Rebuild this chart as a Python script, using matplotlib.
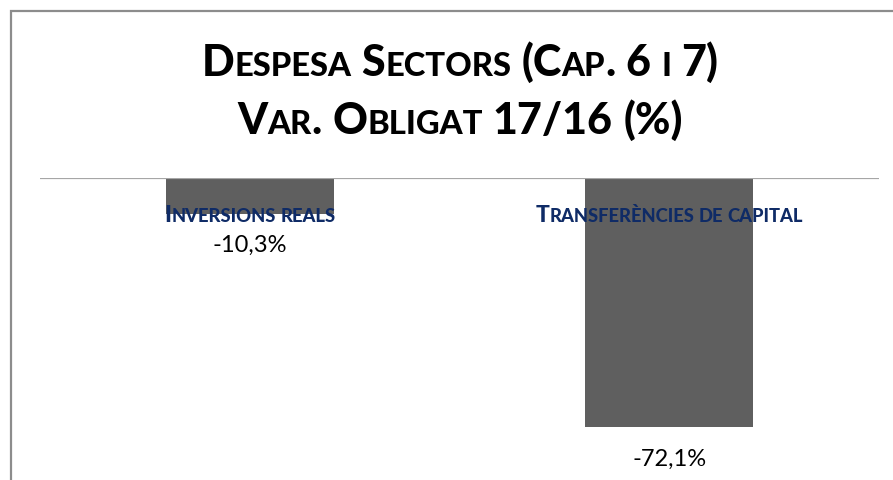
import matplotlib
matplotlib.use("Agg")
import matplotlib.pyplot as plt
from matplotlib.offsetbox import TextArea, HPacker, AnnotationBbox
from matplotlib.patches import Rectangle

categories = ["Inversions reals", "Transferències de capital"]
values = [-10.3, -72.1]
value_labels = ["-10,3%", "-72,1%"]
title_lines = ["Despesa Sectors (Cap. 6 i 7)", "Var. Obligat 17/16 (%)"]

W, H = 893, 480
fig = plt.figure(figsize=(W / 100, H / 100), dpi=100)
FONT = "Lato"


def smallcaps_box(text, size, ratio, color, weight="bold", family=FONT, space=0.24):
    words = text.split(" ")
    word_boxes = []
    for w in words:
        runs = []
        for ch in w:
            small = ch.islower()
            if runs and runs[-1][0] == small:
                runs[-1][1] += ch
            else:
                runs.append([small, ch])
        areas = []
        for small, s in runs:
            fs = size * ratio if small else size
            areas.append(TextArea(s.upper(), textprops=dict(fontsize=fs, fontweight=weight,
                                                            color=color, family=family)))
        word_boxes.append(HPacker(children=areas, align="baseline", pad=0, sep=0))
    return HPacker(children=word_boxes, align="baseline", pad=0, sep=size * space)


def place(box, x, y):
    ab = AnnotationBbox(box, (x / W, 1 - y / H), xycoords="figure fraction",
                        box_alignment=(0.5, 0.5), frameon=False, pad=0)
    fig.add_artist(ab)


# outer chart border (extends beyond the image at right and bottom)
fig.add_artist(Rectangle((11 / W, -0.1), 1.2, 1 - 11 / H + 0.1, transform=fig.transFigure,
                         fill=False, edgecolor="#8c8c8c", linewidth=1.6))

ax = fig.add_axes([40 / W, 0, (879 - 40) / W, (H - 178) / H])
x = list(range(len(categories)))
ax.bar(x, values, width=0.4, color="#5f5f5f", zorder=2)
ax.set_xlim(-0.5, len(categories) - 0.5)
ax.set_ylim(-87.45, 0)
ax.axhline(0, color="#a6a6a6", linewidth=1.6, zorder=3)
ax.set_axis_off()

for xi, v, lab in zip(x, values, value_labels):
    ax.annotate(lab, (xi, v), xytext=(0, -23), textcoords="offset points",
                ha="center", va="center", fontsize=17, color="#000000", family=FONT)

# category labels (small caps, dark blue)
for xi, c in zip(x, categories):
    box = smallcaps_box(c, 16.5, 0.8, "#0f2b66", weight="black", space=0.2)
    ab = AnnotationBbox(box, (xi, 0), xycoords=("data", "data"), xybox=(0, -27),
                        boxcoords="offset points", box_alignment=(0.5, 0.5),
                        frameon=False, pad=0)
    ax.add_artist(ab)

# title
place(smallcaps_box(title_lines[0], 31, 0.76, "#000000", weight="black"), 460, 62)
place(smallcaps_box(title_lines[1], 31, 0.76, "#000000", weight="black"), 460, 120)

fig.savefig("out.png", dpi=100)
